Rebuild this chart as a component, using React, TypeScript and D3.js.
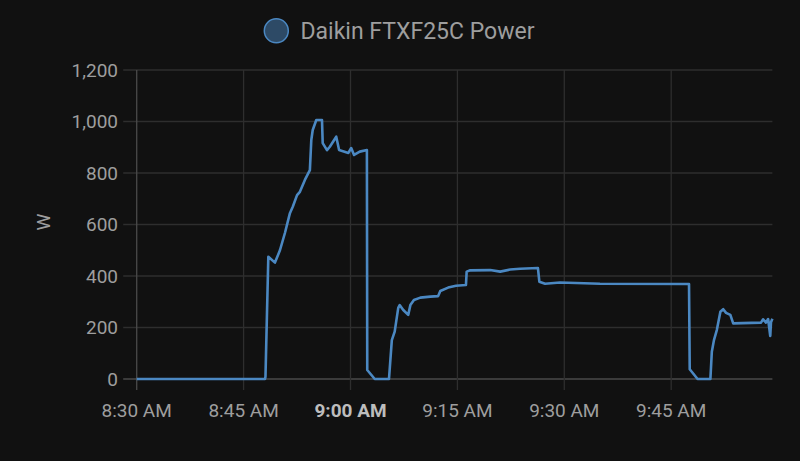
import React from "react";
import * as d3 from "d3";

// minutes after 8:30 AM
const minutes = [0, 18.0, 18.07, 18.47, 19.4, 20.1, 20.8, 21.5, 21.9, 22.5, 22.9, 23.6, 24.3, 24.5, 24.7, 25.2, 26.0, 26.1, 26.7, 27.1, 28.0, 28.4, 29.7, 30.1, 30.5, 31.3, 32.3, 32.35, 33.4, 35.4, 35.8, 36.2, 36.7, 36.9, 37.4, 38.1, 38.4, 38.9, 39.8, 41.2, 42.3, 42.6, 43.7, 44.8, 46.2, 46.3, 46.8, 49.6, 51.0, 52.4, 53.8, 56.3, 56.5, 57.3, 59.4, 65.0, 77.5, 77.6, 78.7, 80.5, 80.7, 81.0, 81.4, 81.9, 82.3, 82.7, 83.3, 83.7, 87.6, 87.9, 88.3, 88.6, 88.9, 89.0, 89.2];
const watts = [0, 0, 9, 475, 452, 500, 567, 644, 669, 714, 727, 773, 811, 928, 967, 1006, 1006, 916, 889, 902, 941, 889, 878, 897, 870, 883, 889, 35, 0, 0, 151, 184, 276, 287, 268, 249, 287, 307, 316, 320, 322, 342, 355, 362, 365, 417, 422, 423, 417, 425, 428, 431, 378, 370, 375, 370, 369, 38, 0, 0, 106, 151, 190, 261, 271, 257, 249, 216, 219, 232, 219, 233, 167, 220, 234];
const yTicks = [0, 200, 400, 600, 800, 1000, 1200];
const xTickLabels = ["8:30 AM", "8:45 AM", "9:00 AM", "9:15 AM", "9:30 AM", "9:45 AM"];
const seriesName = "Daikin FTXF25C Power";
const unit = "W";

const base = new Date(2024, 0, 1, 8, 30, 0).getTime();
const toDate = (m: number) => new Date(base + m * 60000);

export default function App() {
  const W = 800, H = 461;
  const left = 136.7, right = 772.4, top = 70, bottom = 379;
  const x = d3.scaleTime().domain([toDate(0), toDate(89.2)]).range([left, right]);
  const y = d3.scaleLinear().domain([0, 1200]).range([bottom, top]);
  const data = minutes.map((m, i) => ({ t: toDate(m), v: watts[i] }));
  const line = d3.line<{ t: Date; v: number }>().x(d => x(d.t)).y(d => y(d.v));
  const xTicks = xTickLabels.map((_, i) => toDate(i * 15));
  const textColor = "#9e9e9e";
  const grid = "#2e2e2e";
  const axisCol = "#4a4a4a";
  const lineCol = "#4b88c2";
  const font = "Roboto, sans-serif";

  return (
    <div style={{ position: "fixed", left: 0, top: 0, width: W, height: H, background: "#111111" }}>
      <svg width={W} height={H} style={{ display: "block" }}>
        <rect width={W} height={H} fill="#111111" />
        {/* legend */}
        <circle cx={276.3} cy={30.8} r={12} fill="#2d4a66" stroke={lineCol} strokeWidth={1.5} />
        <text x={300.5} y={30.5} dy="0.35em" fill={textColor} fontFamily={font} fontSize={23}>{seriesName}</text>
        {/* horizontal grid */}
        {yTicks.map(t => (
          <g key={"y" + t}>
            <line x1={left - 13.5} x2={right} y1={y(t)} y2={y(t)} stroke={t === 0 ? axisCol : grid} strokeWidth={1.3} />
            <text x={118} y={y(t)} dy="0.35em" textAnchor="end" fill={textColor} fontFamily={font} fontSize={19}>{d3.format(",")(t)}</text>
          </g>
        ))}
        {/* vertical grid */}
        {xTicks.map((t, i) => (
          <g key={"x" + i}>
            <line x1={x(t)} x2={x(t)} y1={top} y2={bottom + 11} stroke={i === 0 ? axisCol : grid} strokeWidth={1.3} />
            <text x={x(t)} y={410} dy="0.35em" textAnchor="middle" fill={i === 2 ? "#bdbdbd" : textColor} fontWeight={i === 2 ? "bold" : "normal"} fontFamily={font} fontSize={19}>{xTickLabels[i]}</text>
          </g>
        ))}
        <text transform={`translate(43,222) rotate(-90)`} textAnchor="middle" dy="0.35em" fill={textColor} fontFamily={font} fontSize={19}>{unit}</text>
        <path d={line(data) || ""} fill="none" stroke={lineCol} strokeWidth={2.6} strokeLinejoin="round" />
      </svg>
    </div>
  );
}
